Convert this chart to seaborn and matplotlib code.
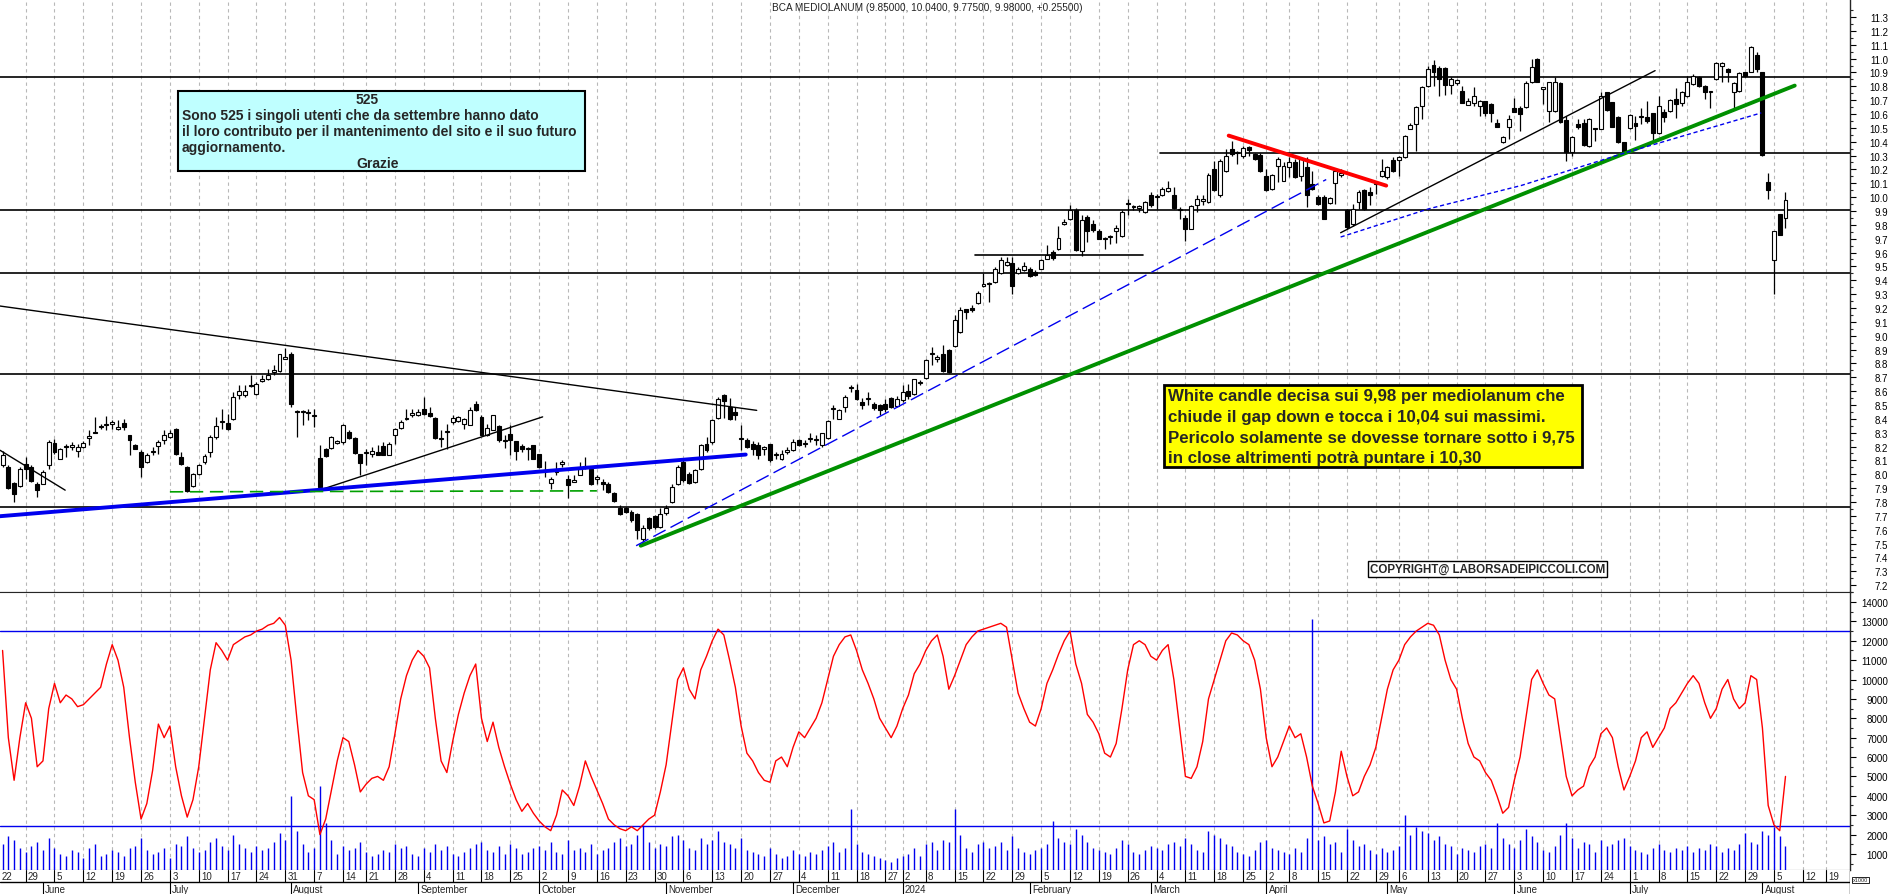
import numpy as np
import pandas as pd
import matplotlib
matplotlib.use("Agg")
import matplotlib.pyplot as plt
from matplotlib.patches import Rectangle
import seaborn as sns

sns.set_style("white")
plt.rcParams['font.family'] = ['Liberation Sans', 'DejaVu Sans']

# ---- data ----
title = "BCA MEDIOLANUM (9.85000, 10.0400, 9.77500, 9.98000, +0.25500)"

open_ = [8.065, 8.053, 7.940, 7.916, 8.077, 8.053, 7.926, 7.933, 8.065, 8.229,
         8.113, 8.205, 8.200, 8.169, 8.197, 8.265, 8.305, 8.340, 8.353, 8.366,
         8.330, 8.370, 8.282, 8.214, 8.161, 8.089, 8.163, 8.205, 8.245, 8.269,
         8.330, 8.125, 8.053, 7.916, 8.003, 8.089, 8.161, 8.269, 8.375, 8.368,
         8.402, 8.570, 8.570, 8.647, 8.582, 8.671, 8.685, 8.738, 8.743, 8.832,
         8.870, 8.450, 8.446, 8.450, 8.420, 8.118, 8.185, 8.190, 8.229, 8.233,
         8.306, 8.262, 8.149, 8.156, 8.149, 8.164, 8.205, 8.142, 8.281, 8.337,
         8.400, 8.426, 8.426, 8.474, 8.445, 8.409, 8.257, 8.305, 8.378, 8.385,
         8.366, 8.358, 8.505, 8.414, 8.286, 8.318, 8.349, 8.238, 8.291, 8.238,
         8.205, 8.180, 8.214, 8.147, 8.022, 7.938, 8.017, 8.077, 7.964, 7.945,
         7.997, 8.053, 8.041, 7.969, 7.945, 7.933, 7.861, 7.753, 7.758, 7.729,
         7.710, 7.536, 7.685, 7.700, 7.621, 7.717, 7.801, 7.933, 8.089, 8.005,
         7.945, 8.041, 8.221, 8.233, 8.406, 8.570, 8.486, 8.450, 8.257, 8.245,
         8.221, 8.214, 8.185, 8.221, 8.137, 8.113, 8.161, 8.173, 8.250, 8.221,
         8.257, 8.245, 8.209, 8.262, 8.473, 8.402, 8.486, 8.622, 8.606, 8.522,
         8.541, 8.510, 8.498, 8.510, 8.551, 8.493, 8.534, 8.599, 8.582, 8.659,
         8.695, 8.870, 8.829, 8.870, 8.899, 8.926, 9.026, 9.190, 9.200, 9.236,
         9.356, 9.375, 9.387, 9.454, 9.507, 9.526, 9.454, 9.471, 9.478, 9.459,
         9.483, 9.555, 9.603, 9.627, 9.808, 9.839, 9.904, 9.608, 9.856, 9.808,
         9.752, 9.695, 9.711, 9.759, 9.718, 9.952, 9.928, 9.925, 9.892, 10.017,
         10.000, 10.012, 10.041, 10.012, 9.904, 9.848, 9.772, 9.945, 9.969, 9.964,
         10.204, 10.012, 10.190, 10.348, 10.320, 10.300, 10.360, 10.312, 10.305, 10.156,
         10.060, 10.228, 10.120, 10.216, 10.257, 10.156, 10.216, 10.096, 9.999, 9.999,
         9.959, 10.103, 10.161, 9.904, 9.808, 9.964, 10.053, 10.036, 10.096, 10.156,
         10.144, 10.269, 10.271, 10.288, 10.492, 10.529, 10.656, 10.805, 10.954, 10.930,
         10.930, 10.810, 10.824, 10.769, 10.666, 10.680, 10.661, 10.697, 10.673, 10.536,
         10.401, 10.505, 10.641, 10.641, 10.649, 10.834, 10.997, 10.781, 10.625, 10.625,
         10.824, 10.560, 10.324, 10.529, 10.536, 10.368, 10.497, 10.493, 10.757, 10.685,
         10.577, 10.396, 10.497, 10.536, 10.577, 10.577, 10.608, 10.464, 10.613, 10.625,
         10.709, 10.680, 10.733, 10.817, 10.870, 10.800, 10.757, 10.853, 10.944, 10.925,
         10.757, 10.769, 10.901, 10.906, 11.026, 10.901, 10.108, 9.543, 9.880, 9.850]

high = [8.170, 8.065, 7.945, 8.053, 8.125, 8.065, 7.945, 8.029, 8.245, 8.257,
        8.190, 8.221, 8.233, 8.221, 8.238, 8.318, 8.414, 8.366, 8.421, 8.390,
        8.390, 8.397, 8.286, 8.221, 8.173, 8.156, 8.197, 8.245, 8.318, 8.318,
        8.334, 8.161, 8.058, 8.012, 8.077, 8.149, 8.281, 8.414, 8.474, 8.438,
        8.594, 8.642, 8.642, 8.714, 8.666, 8.714, 8.762, 8.786, 8.870, 8.910,
        8.882, 8.462, 8.462, 8.474, 8.474, 8.209, 8.190, 8.277, 8.245, 8.366,
        8.318, 8.269, 8.149, 8.185, 8.197, 8.209, 8.233, 8.233, 8.334, 8.390,
        8.474, 8.474, 8.474, 8.558, 8.486, 8.414, 8.318, 8.366, 8.426, 8.421,
        8.406, 8.486, 8.527, 8.426, 8.366, 8.426, 8.354, 8.281, 8.354, 8.238,
        8.221, 8.197, 8.214, 8.149, 8.094, 7.981, 8.089, 8.101, 7.993, 7.993,
        8.089, 8.125, 8.046, 7.993, 7.969, 7.945, 7.873, 7.777, 7.765, 7.741,
        7.717, 7.633, 7.693, 7.705, 7.753, 7.777, 7.933, 8.065, 8.113, 8.017,
        8.041, 8.221, 8.269, 8.402, 8.558, 8.582, 8.551, 8.486, 8.354, 8.262,
        8.238, 8.233, 8.204, 8.221, 8.161, 8.173, 8.197, 8.257, 8.257, 8.245,
        8.294, 8.281, 8.294, 8.390, 8.498, 8.474, 8.570, 8.642, 8.654, 8.551,
        8.594, 8.522, 8.510, 8.546, 8.558, 8.565, 8.642, 8.654, 8.690, 8.678,
        8.834, 8.918, 8.858, 8.930, 8.906, 9.147, 9.207, 9.195, 9.219, 9.320,
        9.454, 9.387, 9.495, 9.567, 9.567, 9.567, 9.495, 9.531, 9.495, 9.471,
        9.555, 9.651, 9.615, 9.791, 9.839, 9.940, 9.920, 9.868, 9.868, 9.832,
        9.771, 9.711, 9.728, 9.800, 9.904, 9.988, 9.940, 9.940, 9.969, 10.036,
        10.024, 10.072, 10.120, 10.072, 9.928, 9.868, 9.940, 10.012, 10.017, 10.175,
        10.264, 10.276, 10.348, 10.408, 10.336, 10.368, 10.372, 10.319, 10.319, 10.204,
        10.168, 10.288, 10.257, 10.288, 10.276, 10.288, 10.288, 10.192, 10.012, 10.012,
        10.000, 10.192, 10.204, 9.916, 9.952, 10.048, 10.060, 10.072, 10.108, 10.276,
        10.228, 10.288, 10.300, 10.449, 10.536, 10.661, 10.805, 10.950, 10.992, 10.950,
        10.937, 10.865, 10.853, 10.800, 10.714, 10.793, 10.704, 10.697, 10.680, 10.565,
        10.444, 10.594, 10.714, 10.656, 10.841, 10.997, 11.002, 10.793, 10.829, 10.865,
        10.834, 10.584, 10.444, 10.565, 10.565, 10.570, 10.497, 10.762, 10.762, 10.690,
        10.584, 10.401, 10.601, 10.584, 10.641, 10.697, 10.608, 10.733, 10.637, 10.709,
        10.786, 10.769, 10.877, 10.889, 10.877, 10.810, 10.762, 10.973, 10.978, 10.930,
        10.829, 10.901, 10.906, 11.089, 11.045, 10.906, 10.175, 9.759, 9.880, 10.040]

low = [8.050, 7.897, 7.801, 7.909, 7.969, 7.945, 7.837, 7.926, 8.041, 8.149,
       8.108, 8.125, 8.173, 8.125, 8.190, 8.209, 8.294, 8.330, 8.318, 8.330,
       8.318, 8.318, 8.137, 8.181, 7.981, 8.084, 8.137, 8.149, 8.221, 8.262,
       8.137, 8.065, 7.873, 7.909, 7.993, 8.077, 8.125, 8.257, 8.330, 8.318,
       8.390, 8.546, 8.558, 8.630, 8.570, 8.666, 8.678, 8.714, 8.738, 8.832,
       8.486, 8.269, 8.354, 8.390, 8.342, 7.909, 8.125, 8.185, 8.221, 8.221,
       8.257, 8.149, 7.993, 8.065, 8.125, 8.137, 8.137, 8.137, 8.221, 8.330,
       8.390, 8.414, 8.421, 8.426, 8.414, 8.257, 8.197, 8.185, 8.366, 8.378,
       8.330, 8.354, 8.455, 8.281, 8.277, 8.318, 8.233, 8.190, 8.142, 8.101,
       8.161, 8.101, 8.108, 8.046, 7.981, 7.897, 7.993, 8.053, 7.825, 7.945,
       7.993, 8.041, 7.921, 7.933, 7.885, 7.861, 7.801, 7.705, 7.717, 7.657,
       7.536, 7.512, 7.601, 7.605, 7.613, 7.705, 7.789, 7.921, 7.945, 7.933,
       7.938, 8.029, 8.161, 8.221, 8.402, 8.406, 8.390, 8.390, 8.173, 8.190,
       8.142, 8.113, 8.142, 8.089, 8.113, 8.101, 8.149, 8.166, 8.204, 8.197,
       8.233, 8.209, 8.197, 8.257, 8.402, 8.397, 8.450, 8.594, 8.534, 8.474,
       8.498, 8.462, 8.426, 8.450, 8.479, 8.486, 8.522, 8.546, 8.570, 8.642,
       8.690, 8.786, 8.810, 8.738, 8.733, 8.918, 9.021, 9.123, 9.171, 9.229,
       9.351, 9.243, 9.382, 9.447, 9.502, 9.298, 9.447, 9.464, 9.423, 9.430,
       9.478, 9.550, 9.543, 9.622, 9.800, 9.832, 9.608, 9.574, 9.675, 9.747,
       9.695, 9.627, 9.663, 9.670, 9.711, 9.868, 9.904, 9.892, 9.887, 9.928,
       9.916, 10.007, 10.036, 9.916, 9.844, 9.680, 9.767, 9.892, 9.940, 9.959,
       10.041, 10.000, 10.180, 10.300, 10.240, 10.281, 10.295, 10.271, 10.180, 10.041,
       10.048, 10.108, 10.113, 10.144, 10.137, 10.120, 9.928, 10.048, 9.945, 9.844,
       9.952, 9.952, 10.144, 9.771, 9.795, 9.916, 9.904, 9.940, 10.024, 10.144,
       10.132, 10.180, 10.156, 10.281, 10.492, 10.336, 10.565, 10.793, 10.805, 10.733,
       10.738, 10.745, 10.810, 10.680, 10.666, 10.661, 10.589, 10.584, 10.541, 10.505,
       10.391, 10.420, 10.613, 10.480, 10.642, 10.824, 10.829, 10.673, 10.541, 10.613,
       10.536, 10.264, 10.300, 10.493, 10.372, 10.360, 10.408, 10.493, 10.625, 10.505,
       10.391, 10.319, 10.493, 10.415, 10.529, 10.536, 10.396, 10.456, 10.541, 10.617,
       10.570, 10.661, 10.721, 10.810, 10.793, 10.709, 10.641, 10.848, 10.829, 10.829,
       10.641, 10.762, 10.865, 10.901, 10.901, 10.300, 9.988, 9.303, 9.725, 9.775]

close = [8.140, 7.902, 7.856, 8.041, 8.041, 7.950, 7.885, 8.017, 8.233, 8.161,
         8.181, 8.193, 8.205, 8.193, 8.229, 8.272, 8.298, 8.345, 8.356, 8.378,
         8.339, 8.342, 8.245, 8.181, 8.053, 8.142, 8.166, 8.233, 8.286, 8.301,
         8.149, 8.077, 7.880, 8.005, 8.070, 8.132, 8.269, 8.349, 8.378, 8.330,
         8.558, 8.599, 8.601, 8.637, 8.654, 8.690, 8.714, 8.750, 8.870, 8.849,
         8.510, 8.455, 8.450, 8.442, 8.420, 7.909, 8.130, 8.269, 8.230, 8.354,
         8.262, 8.156, 8.084, 8.160, 8.168, 8.142, 8.137, 8.221, 8.330, 8.378,
         8.402, 8.445, 8.450, 8.433, 8.421, 8.262, 8.257, 8.306, 8.409, 8.414,
         8.397, 8.462, 8.462, 8.286, 8.334, 8.426, 8.245, 8.238, 8.248, 8.166,
         8.185, 8.180, 8.113, 8.053, 8.022, 7.964, 8.017, 8.080, 7.921, 7.957,
         8.041, 8.060, 7.926, 7.969, 7.926, 7.873, 7.806, 7.712, 7.729, 7.669,
         7.597, 7.613, 7.609, 7.620, 7.712, 7.753, 7.909, 8.053, 7.957, 7.940,
         8.029, 8.209, 8.173, 8.390, 8.546, 8.527, 8.402, 8.426, 8.257, 8.197,
         8.185, 8.142, 8.190, 8.101, 8.142, 8.149, 8.173, 8.233, 8.209, 8.223,
         8.260, 8.245, 8.294, 8.382, 8.474, 8.462, 8.558, 8.623, 8.546, 8.503,
         8.541, 8.479, 8.462, 8.469, 8.486, 8.546, 8.594, 8.565, 8.685, 8.660,
         8.827, 8.870, 8.846, 8.743, 8.738, 9.111, 9.183, 9.171, 9.183, 9.310,
         9.375, 9.375, 9.483, 9.548, 9.531, 9.358, 9.478, 9.500, 9.430, 9.435,
         9.543, 9.579, 9.560, 9.704, 9.824, 9.904, 9.615, 9.832, 9.752, 9.760,
         9.699, 9.695, 9.723, 9.776, 9.892, 9.952, 9.928, 9.935, 9.964, 9.940,
         10.000, 10.060, 10.065, 9.920, 9.904, 9.772, 9.935, 9.983, 9.988, 10.161,
         10.048, 10.264, 10.300, 10.312, 10.320, 10.353, 10.343, 10.276, 10.185, 10.048,
         10.161, 10.276, 10.228, 10.252, 10.144, 10.276, 10.012, 10.060, 9.952, 9.844,
         9.993, 10.185, 10.175, 9.784, 9.916, 10.036, 9.916, 10.017, 10.103, 10.185,
         10.216, 10.187, 10.293, 10.444, 10.524, 10.654, 10.793, 10.925, 10.906, 10.853,
         10.810, 10.853, 10.848, 10.680, 10.697, 10.733, 10.697, 10.608, 10.608, 10.505,
         10.432, 10.565, 10.617, 10.601, 10.824, 10.937, 10.834, 10.793, 10.829, 10.834,
         10.541, 10.324, 10.432, 10.505, 10.377, 10.565, 10.493, 10.733, 10.632, 10.505,
         10.396, 10.324, 10.594, 10.512, 10.577, 10.546, 10.464, 10.656, 10.577, 10.704,
         10.673, 10.757, 10.829, 10.877, 10.805, 10.757, 10.757, 10.966, 10.966, 10.901,
         10.824, 10.894, 10.872, 11.081, 10.925, 10.305, 10.048, 9.759, 9.725, 9.980]

# lower panel: oscillator (red) and volume in thousands (blue)
oscillator = [11500, 7000, 4800, 7000, 8800, 8000, 5500, 5800, 8500, 9800,
              8800, 9200, 9000, 8600, 8700, 9000, 9300, 9600, 10800, 11800,
              11000, 9600, 7000, 4700, 2800, 3600, 5300, 7700, 7000, 7600,
              5500, 4000, 2900, 3800, 5500, 8000, 10500, 11900, 11500, 11000,
              11800, 12000, 12200, 12300, 12500, 12600, 12800, 12900, 13200, 12800,
              11000, 8000, 5200, 4000, 3800, 2000, 2800, 4300, 5800, 7000,
              6800, 5600, 4200, 4600, 4900, 5000, 4800, 5500, 7200, 9000,
              10200, 11000, 11500, 11200, 10600, 8000, 5800, 5200, 6800, 8200,
              9300, 10200, 10800, 8000, 6800, 7800, 6500, 5500, 4600, 3800,
              3200, 3600, 3100, 2700, 2400, 2200, 3000, 4300, 4000, 3500,
              4500, 5800, 5000, 4300, 3600, 2800, 2500, 2300, 2200, 2400,
              2200, 2500, 2800, 3000, 4200, 5600, 7800, 10000, 10600, 9500,
              9000, 10500, 11200, 12000, 12600, 12300, 11000, 9600, 7600, 6200,
              5800, 5200, 4800, 4700, 5800, 6000, 5500, 6500, 7300, 7000,
              7500, 8000, 8800, 10000, 11200, 11800, 12200, 12300, 11500, 10500,
              9800, 9000, 8000, 7500, 7000, 7600, 8500, 9200, 10300, 10800,
              11500, 12000, 12300, 11200, 9500, 10200, 11000, 11800, 12200, 12500,
              12600, 12700, 12800, 12900, 12700, 11000, 9300, 8500, 7800, 7600,
              8500, 9800, 10500, 11300, 12000, 12500, 10800, 9800, 8200, 7800,
              7200, 6200, 6000, 6700, 8500, 10500, 11800, 12000, 11800, 11200,
              11000, 11500, 11800, 10000, 7500, 5000, 4900, 5500, 6800, 9000,
              10000, 11000, 12000, 12400, 12300, 12000, 11800, 11000, 9500, 7000,
              5500, 6000, 6800, 7600, 7000, 7200, 6000, 4500, 3600, 2600,
              2700, 4200, 6300, 5000, 4000, 4200, 5000, 5600, 6500, 8000,
              9500, 10500, 11000, 11800, 12200, 12500, 12700, 12900, 12800, 12300,
              11000, 10000, 9500, 8000, 6700, 6000, 5800, 5200, 4800, 4000,
              3100, 3400, 4800, 6000, 8000, 10000, 10500, 9800, 9200, 9000,
              7000, 5000, 4000, 4300, 4500, 5500, 6000, 7200, 7500, 7000,
              5500, 4300, 5000, 5800, 7000, 7300, 6500, 7000, 7500, 8500,
              8800, 9300, 9800, 10200, 9800, 8800, 8000, 8500, 9500, 10000,
              9000, 8500, 8800, 10200, 10000, 7500, 3500, 2500, 2200, 5000]

volume = [1500, 1900, 1700, 1300, 1100, 1400, 1600, 1200, 1800, 1300,
          1000, 900, 1200, 1100, 800, 1300, 1500, 900, 1000, 1200,
          1100, 900, 1300, 1400, 1800, 1200, 1000, 1100, 1300, 800,
          1500, 1400, 1900, 1300, 1100, 1200, 1600, 1800, 1400, 1200,
          2000, 1500, 1300, 1100, 1400, 1200, 1300, 1600, 2100, 1700,
          4000, 2200, 1500, 1100, 1300, 4500, 2600, 1700, 1000, 1400,
          1200, 1300, 1600, 1100, 900, 1000, 1200, 1100, 1500, 1300,
          1400, 1000, 900, 1300, 1100, 1500, 1200, 1400, 1000, 900,
          1100, 1300, 1500, 1600, 1200, 1100, 1400, 1000, 1500, 1300,
          1000, 1100, 1300, 1400, 1200, 1600, 1100, 1000, 1700, 1200,
          1300, 1100, 1500, 1000, 1200, 1300, 1600, 1800, 1400, 1500,
          2000, 2500, 1600, 1300, 1500, 1400, 1900, 2000, 1700, 1300,
          1200, 1800, 1500, 1700, 2200, 1600, 1500, 1300, 1800, 1200,
          1100, 1000, 900, 1300, 1000, 800, 900, 1200, 1000, 900,
          1100, 1000, 1200, 1400, 1600, 1100, 1300, 3300, 1500, 1100,
          1000, 900, 800, 700, 600, 800, 900, 1000, 1300, 900,
          1500, 1600, 1200, 1700, 1600, 3300, 2000, 1300, 1100, 1500,
          1600, 1300, 1400, 1600, 1200, 1900, 1300, 1100, 1000, 1200,
          1300, 1500, 2700, 1800, 1600, 1500, 2300, 2000, 1600, 1300,
          1200, 1100, 1000, 1300, 1700, 1500, 1100, 1000, 1200, 1400,
          1300, 1200, 1500, 1600, 1400, 1800, 1500, 1200, 1100, 2200,
          2000, 1800, 1500, 1400, 1100, 1000, 900, 1200, 1600, 1700,
          1300, 1200, 1100, 1000, 1300, 1100, 1800, 13100, 1700, 1900,
          1500, 1600, 1100, 2300, 1700, 1400, 1500, 1200, 1000, 1300,
          1100, 1200, 1400, 3000, 2000, 2400, 2200, 2100, 1700, 1900,
          1500, 1400, 1000, 1300, 1200, 1100, 1400, 1500, 1300, 2600,
          1800, 1500, 1300, 1700, 2300, 1900, 1600, 1200, 1100, 1400,
          2000, 2600, 1800, 1300, 1600, 1500, 1100, 1700, 1400, 1500,
          1700, 1800, 1400, 1200, 1100, 1000, 1300, 1500, 1200, 1100,
          1300, 1200, 1400, 1100, 1300, 1200, 1500, 1400, 1100, 1300,
          1200, 1500, 2100, 1600, 1500, 2200, 2000, 2400, 1900, 1400]

# horizontal support / resistance levels
levels = [10.87, 9.91, 9.45, 8.72, 7.76]
osc_bands = [12500, 2450]

# trading calendar used for the date axis
holidays = pd.to_datetime(['2023-08-15', '2023-12-25', '2023-12-26', '2024-01-01',
                           '2024-03-29', '2024-04-01', '2024-05-01', '2024-08-15'])
days = pd.bdate_range('2023-05-22', '2024-08-19')
days = days[~days.isin(holidays)]

W, H = 1890, 895
fig = plt.figure(figsize=(W / 100, H / 100), dpi=100)
fig.patch.set_facecolor('white')

def fx(px):
    return px / W

def fy(py):
    return 1 - py / H

x0, x1 = 3.2 / 5.77, (1850 + 3.2) / 5.77
ax = fig.add_axes([0, fy(593), fx(1850), 593 / H])
axv = fig.add_axes([0, fy(871), fx(1850), (871 - 593) / H])
axd = fig.add_axes([0, 0, fx(1850), 24 / H])
for a in (ax, axv, axd):
    a.set_xlim(x0, x1)
    a.set_facecolor('white')
    for s in a.spines.values():
        s.set_visible(False)
    a.set_xticks([])
axd.set_yticks([])

ax.set_ylim(7.154, 11.43)
axv.set_ylim(171, 14516)
axd.set_ylim(0, 2)

# week / month boundaries
week_pos, week_lab, month_pos, month_lab = [], [], [], []
prev_w, prev_m = None, days[0].month
for k, d in enumerate(days):
    w = d.isocalendar()[1]
    if w != prev_w:
        week_pos.append(k)
        week_lab.append(str(d.day))
        prev_w = w
    if d.month != prev_m:
        month_pos.append(k)
        month_lab.append('2024' if d.month == 1 else d.strftime('%B'))
        prev_m = d.month

for a in (ax, axv):
    for p in week_pos:
        a.axvline(p, color='#b8b8b8', lw=0.8, ls=(0, (3, 3)), zorder=0)

# price panel
x = np.arange(1, len(close) + 1)
o = np.array(open_)
c = np.array(close)
ax.vlines(x, low, high, color='black', lw=0.9, zorder=3)
bottom = np.minimum(o, c)
height = np.maximum(np.abs(c - o), 0.008)
fill = np.where(c >= o, 'white', 'black')
ax.bar(x, height, bottom=bottom, width=0.68, color=fill, edgecolor='black',
       linewidth=0.8, zorder=4)

for lv in levels:
    ax.axhline(lv, color='black', lw=1.2, zorder=2)
ax.plot([201.6, x1], [10.32, 10.32], color='black', lw=1.2, zorder=2)
ax.plot([169.6, 198.6], [9.579, 9.579], color='black', lw=1.2, zorder=2)

ax.plot([x0, 131.7], [9.214, 8.461], color='black', lw=1.0, zorder=5)
ax.plot([x0, 11.85], [8.173, 7.885], color='black', lw=1.0, zorder=5)
ax.plot([55.9, 94.6], [7.885, 8.414], color='black', lw=1.0, zorder=5)
ax.plot([232.9, 287.4], [9.743, 10.913], color='black', lw=1.0, zorder=5)
ax.plot([x0, 129.8], [7.697, 8.142], color='#0000ee', lw=2.8, zorder=5)
ax.plot([30, 104], [7.873, 7.88], color='#00a000', lw=1.2, dashes=(8, 4), zorder=5)
ax.plot([111.6, 311.6], [7.484, 10.805], color='#009000', lw=2.8, zorder=5)
ax.plot([110.8, 230.4], [7.484, 10.127], color='#0000ee', lw=1.0, dashes=(10, 4), zorder=5)
ax.plot([213.5, 240.8], [10.444, 10.083], color='#ff0000', lw=2.8, zorder=5)
ax.plot([232.9, 248.2, 264.2, 281.6, 288.6, 305.8],
        [9.712, 9.916, 10.084, 10.312, 10.397, 10.608],
        color='#0000ee', lw=1.0, dashes=(3, 2), zorder=5)

# lower panel
for b in osc_bands:
    axv.axhline(b, color='#0000ee', lw=1.0, zorder=2)
axv.vlines(x, 0, volume, color='#0000ee', lw=1.0, zorder=3)
sns.lineplot(x=x, y=oscillator, ax=axv, color='#ff0000', lw=1.0, zorder=4)
axv.set_xlim(x0, x1)
axv.set_ylim(171, 14516)
axv.set_xlabel('')
axv.set_ylabel('')

# right axes
for a, major, minor, fmt in ((ax, np.arange(7.2, 11.35, 0.1), np.arange(7.15, 11.4, 0.05), '{:.1f}'),
                             (axv, np.arange(1000, 14001, 1000), np.arange(500, 14501, 500), '{:.0f}')):
    a.spines['right'].set_visible(True)
    a.spines['right'].set_linewidth(1.0)
    a.yaxis.tick_right()
    a.set_yticks(major)
    a.set_yticks(minor, minor=True)
    a.set_yticklabels([fmt.format(v) for v in major])
    a.tick_params(axis='y', which='major', direction='out', length=4.3, width=0.8,
                  pad=23, labelsize=7, colors='black')
    a.tick_params(axis='y', which='minor', direction='out', length=2.2, width=0.8)
    for t in a.get_yticklabels():
        t.set_horizontalalignment('right')
    a.set_xticks([])
ax.spines['bottom'].set_visible(True)
axv.spines['bottom'].set_visible(True)
axv.spines['top'].set_visible(True)

# date strip
axd.axhline(1, color='black', lw=1.0)
axd.plot([x1, x1], [0, 2], color='black', lw=1.0)
for p, lab in zip(week_pos, week_lab):
    axd.plot([p, p], [1, 2], color='black', lw=0.8)
    axd.text(max(p + 0.4, x0 + 0.3), 1.5, lab, fontsize=7, ha='left', va='center')
for p, lab in zip(month_pos, month_lab):
    axd.plot([p, p], [0, 1], color='black', lw=0.8)
    axd.text(p + 0.4, 0.45, lab, fontsize=7, ha='left', va='center')

# texts and boxes
fig.text(fx(772), fy(8), title, fontsize=7.2, ha='left', va='center', color='#222222')

fig.add_artist(Rectangle((fx(178), fy(172)), (585 - 178) / W, 80 / H, transform=fig.transFigure,
                         facecolor='#bfffff', edgecolor='black', lw=1.5, zorder=6))
fig.text(fx(367), fy(100), "525", fontsize=10, fontweight='bold', ha='center', va='center', zorder=7)
fig.text(fx(182), fy(116), "Sono 525 i singoli utenti che da settembre hanno dato",
         fontsize=10, fontweight='bold', ha='left', va='center', zorder=7)
fig.text(fx(182), fy(132), "il loro contributo per il mantenimento del sito e il suo futuro",
         fontsize=10, fontweight='bold', ha='left', va='center', zorder=7)
fig.text(fx(182), fy(148), "aggiornamento.", fontsize=10, fontweight='bold', ha='left', va='center', zorder=7)
fig.text(fx(378), fy(164), "Grazie", fontsize=10, fontweight='bold', ha='center', va='center', zorder=7)

fig.add_artist(Rectangle((fx(1164), fy(468)), (1582 - 1164) / W, 82 / H, transform=fig.transFigure,
                         facecolor='#ffff00', edgecolor='black', lw=2, zorder=6))
yellow_lines = ["White candle decisa sui 9,98 per mediolanum che",
                "chiude il gap down e tocca i 10,04 sui massimi.",
                "Pericolo solamente se dovesse tornare sotto i 9,75",
                "in close altrimenti potrà puntare i 10,30"]
for k, line in enumerate(yellow_lines):
    fig.text(fx(1168), fy(397 + 20.5 * k), line, fontsize=12.2, fontweight='bold',
             ha='left', va='center', zorder=7)

fig.text(fx(1370), fy(570), "COPYRIGHT@ LABORSADEIPICCOLI.COM", fontsize=8.3, fontweight='bold',
         ha='left', va='center', zorder=7,
         bbox=dict(boxstyle='square,pad=0.15', facecolor='white', edgecolor='black', lw=1))

fig.text(fx(1853), fy(881), "x1000", fontsize=4, ha='left', va='center',
         bbox=dict(boxstyle='square,pad=0.1', facecolor='white', edgecolor='black', lw=0.6))

fig.savefig('out.png', dpi=100)
